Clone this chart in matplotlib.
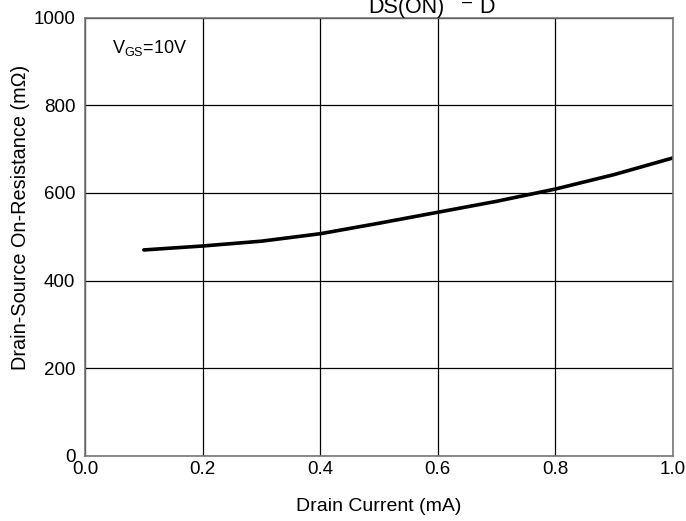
import matplotlib.pyplot as plt
import matplotlib.transforms as mtransforms
import numpy as np

plt.rcParams['font.family'] = ['Liberation Sans', 'DejaVu Sans']

# drain current (mA) and on-resistance (mOhm)
drain_current = [0.1, 0.2, 0.3, 0.4, 0.5, 0.6, 0.7, 0.8, 0.9, 1.0]
on_resistance = [470, 479, 490, 507, 531, 556, 581, 609, 642, 680]

x_ticks = [0.0, 0.2, 0.4, 0.6, 0.8, 1.0]
y_ticks = [0, 200, 400, 600, 800, 1000]

W, H = 686, 521
fig = plt.figure(figsize=(W / 100, H / 100), dpi=100)
ax = fig.add_axes([0.124, 0.125, 0.857, 0.841])

ax.plot(drain_current, on_resistance, color='black', linewidth=2.6,
        solid_capstyle='round')

ax.set_xlim(0, 1.0)
ax.set_ylim(0, 1000)
ax.set_xticks(x_ticks)
ax.set_xticklabels(["%.1f" % t for t in x_ticks])
ax.set_yticks(y_ticks)
ax.grid(True, color='black', linewidth=0.9)
ax.tick_params(length=0, labelsize=13.5)
ax.tick_params(axis='y', pad=7)
ax.tick_params(axis='x', pad=4)
for s in ax.spines.values():
    s.set_color('#777777')
    s.set_linewidth(1.2)

ax.set_xlabel("Drain Current (mA)", fontsize=14)
ax.xaxis.set_label_coords(0.5, -0.095)
ax.set_ylabel("Drain-Source On-Resistance (m\u03a9)", fontsize=14.3)
ax.yaxis.set_label_coords(-0.093, 0.545)

ax.text(0.045, 0.93, r"V$_{\mathregular{GS}}$=10V", transform=ax.transAxes,
        fontsize=13, va='center', ha='left')

# title is cut by the top edge: only the subscripts and the dash show
px = mtransforms.IdentityTransform()
def title_piece(s, x, y_top, size, ha='left'):
    fig.text(x, H - y_top, s, fontsize=size, ha=ha, va='baseline',
             transform=px)

title_piece("R", 368, -2, 22, ha='right')
title_piece("DS(ON)", 368, 13, 15.5)
title_piece("\u2013", 462, 7, 13)
title_piece("I", 480, -2, 22, ha='right')
title_piece("D", 479, 13, 15.5)

fig.savefig("out.png", dpi=100)
